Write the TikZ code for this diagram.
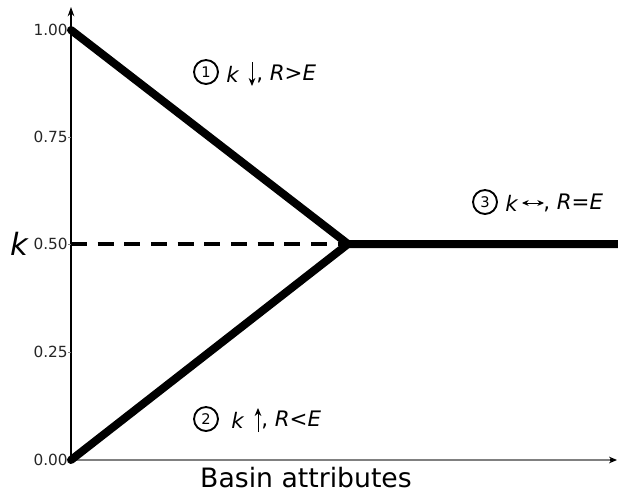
\documentclass[tikz,border=0pt]{standalone}
\usepackage{fontspec}
\setmainfont{DejaVu Sans}
\usetikzlibrary{arrows.meta}
\begin{document}
\begin{tikzpicture}[x=0.75pt,y=-0.75pt,
  thickline/.style={line width=6pt,line cap=round,line join=miter},
  tick/.style={gray,line width=0.6pt},
  ticklab/.style={anchor=east,font=\fontsize{11.5}{12}\selectfont,inner sep=0pt,text=black!85},
  numcirc/.style={circle,draw,line width=1.4pt,minimum size=18pt,inner sep=0pt,font=\fontsize{11}{11}\selectfont},
  annot/.style={anchor=west,inner sep=0pt,font=\fontsize{16}{17}\selectfont\itshape},
  smallarr/.style={line width=0.7pt,-{Stealth[length=6pt,width=5pt]}}]
\useasboundingbox (0,0) rectangle (618,493);
% axes
\coordinate (O) at (71,460);
\coordinate (Ytop) at (71,7);
\coordinate (Xend) at (617,460);
\draw[gray,line width=1pt] (O) -- (613,460);
\draw[line width=0.8pt,-{Stealth[length=7pt,width=5pt]}] (O) -- (Ytop);
\draw[line width=0.8pt,-{Stealth[length=6pt,width=5pt]}] (610,460) -- (Xend);
% ticks and labels
\foreach \v/\y in {1.00/30,0.75/137,0.50/244,0.25/352,0.00/460}{
  \draw[tick] (68,\y) coordinate (t\y) -- (71,\y);
  \node[ticklab] (l\y) at (68,\y) {\v};
}
\node[font=\fontsize{23}{24}\selectfont\itshape,inner sep=0pt] (klab) at (19,244) {k};
\node[font=\fontsize{20}{22}\selectfont,inner sep=0pt] (xlab) at (306,478) {Basin attributes};
% lines
\coordinate (A) at (71,30);
\coordinate (B) at (348,244);
\coordinate (C) at (618,244);
\coordinate (D) at (71,460);
\coordinate (E) at (71,244);
\draw[line width=3pt,dash pattern=on 12pt off 8pt] (E) -- (B);
\draw[thickline] (A) -- (B) -- (C);
\draw[thickline] (D) -- (B);
% annotation 1
\node[numcirc] (c1) at (206,72) {1};
\node[annot] (a1) at (226,74) {k};
\coordinate (d1s) at (252,62);
\coordinate (d1e) at (252,86);
\draw[smallarr] (d1s) -- (d1e);
\node[annot] (b1) at (256,74) {\upshape,\ \itshape R>E};
% annotation 3
\node[numcirc] (c3) at (485,202) {3};
\node[annot] (a3) at (505,203) {k};
\coordinate (d3s) at (522,203);
\coordinate (d3e) at (544,203);
\draw[line width=0.7pt,{Stealth[length=5pt,width=4.5pt]}-{Stealth[length=5pt,width=4.5pt]}] (d3s) -- (d3e);
\node[annot] (b3) at (543,203) {\upshape,\ \itshape R=E};
% annotation 2
\node[numcirc] (c2) at (206,419) {2};
\node[annot] (a2) at (231,420) {k};
\coordinate (d2s) at (258,432);
\coordinate (d2e) at (258,408);
\draw[smallarr] (d2s) -- (d2e);
\node[annot] (b2) at (261,420) {\upshape,\ \itshape R<E};
\end{tikzpicture}
\end{document}
